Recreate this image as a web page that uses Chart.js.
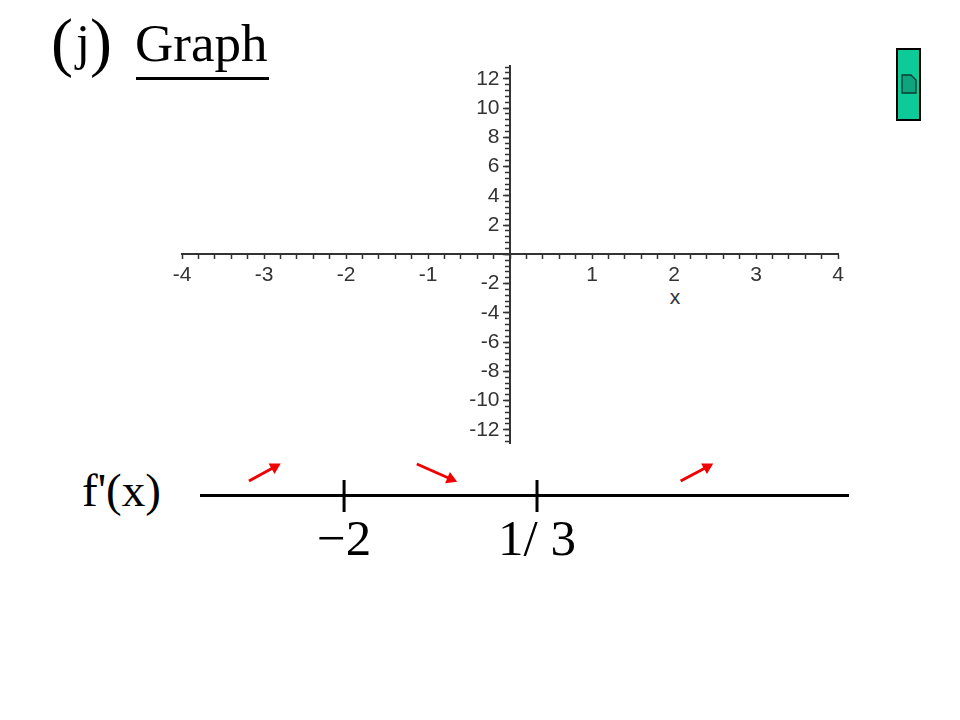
<!DOCTYPE html>
<html>
<head>
<meta charset="utf-8">
<title>Graph</title>
<script src="https://cdn.jsdelivr.net/npm/chart.js@4"></script>
<style>
html, body { margin: 0; padding: 0; background: #fff; }
#page { position: relative; width: 960px; height: 720px; overflow: hidden; }
#page canvas { position: absolute; }
.serif { position: absolute; font-family: "Liberation Serif", serif; color: #000; line-height: 1; white-space: pre; }
</style>
</head>
<body>
<div id="page">
	<div class="serif" style="left:51px;top:9px;font-size:66px;">(</div>
	<div class="serif" style="left:76px;top:17px;font-size:50px;">j</div>
	<div class="serif" style="left:90px;top:9px;font-size:66px;">)</div>
	<div class="serif" style="left:135px;top:17px;font-size:53px;">Graph</div>
	<div style="position:absolute;left:136px;top:77px;width:133px;height:3px;background:#000;"></div>
	<div class="serif" style="left:82px;top:467px;font-size:47px;">f'(x)</div>
	<div style="position:absolute;left:664px;top:285px;width:22px;text-align:center;font:21px 'Liberation Sans',sans-serif;color:#333;">x</div>
	<svg style="position:absolute;left:896px;top:48px;" width="25" height="73">
		<rect x="1" y="1" width="23" height="71" fill="#0ccb98" stroke="#000" stroke-width="2"/>
		<path d="M6 27 H15 L20 32 V45 H6 Z" fill="#0ea57e" stroke="#0b3d30" stroke-width="1.3"/>
	</svg>
	<canvas id="axesChart" width="720" height="410" style="left:150px;top:50px;"></canvas>
	<canvas id="signChart" width="960" height="110" style="left:0;top:450px;"></canvas>
</div>
<script>
"use strict";

/*******************
	  DATA
*******************/

var xRange = [-4, 4];
var yRange = [-12.9, 12.9];
var xMinorStep = 0.2;
var yMinorStep = 0.4;
var yMajorStep = 2;
var xLabels = [-4, -3, -2, -1, 1, 2, 3, 4];
var yLabels = [-12, -10, -8, -6, -4, -2, 2, 4, 6, 8, 10, 12];

var signRange = [-3.73, 4.094];
var signHeight = [-20, 35];
var criticalPoints = [-2, 1 / 3];
var criticalLabels = ['\u22122', '1/ 3'];
var criticalMark = [-17, 15];
var arrowUpFirstX = [-3.15, -2.84];
var arrowDownX = [-1.12, -0.71];
var arrowUpLastX = [2.07, 2.39];
var arrowUpY = [14, 28];
var arrowDownY = [31, 16];

/*******************
	  AXES CHART
*******************/

function hasLabel(list, value) {
	return list.indexOf(Math.round(value * 10) / 10) !== -1;
}

var axisFont = { family: "'Liberation Sans', sans-serif", size: 21 };

var axesChart = new Chart(document.getElementById('axesChart'), {
	type: 'scatter',
	data: { datasets: [] },
	options: {
		responsive: false,
		animation: false,
		layout: { padding: { left: 32, right: 32, top: 13, bottom: 17 } },
		plugins: { legend: { display: false }, tooltip: { enabled: false } },
		scales: {
			x: {
				type: 'linear',
				position: { y: 0 },
				min: xRange[0],
				max: xRange[1],
				border: { color: '#333', width: 2 },
				grid: { drawOnChartArea: false, tickLength: 4, tickColor: '#333', tickWidth: 1.5 },
				ticks: {
					stepSize: xMinorStep,
					autoSkip: false,
					maxRotation: 0,
					padding: 4,
					color: '#333',
					font: axisFont,
					callback: function(value) {
						return hasLabel(xLabels, value) ? String(Math.round(value)) : '';
					}
				}
			},
			// minor tick marks only, the labelled ones are on the next axis
			y: {
				type: 'linear',
				position: { x: 0 },
				min: yRange[0],
				max: yRange[1],
				border: { color: '#333', width: 2 },
				grid: { drawOnChartArea: false, tickLength: 4, tickColor: '#333', tickWidth: 1.5 },
				ticks: {
					stepSize: yMinorStep,
					includeBounds: false,
					autoSkip: false,
					display: false
				}
			},
			yMajor: {
				type: 'linear',
				position: { x: 0 },
				min: yRange[0],
				max: yRange[1],
				border: { color: '#333', width: 2 },
				grid: { drawOnChartArea: false, tickLength: 6, tickColor: '#333', tickWidth: 1.5 },
				ticks: {
					stepSize: yMajorStep,
					includeBounds: false,
					autoSkip: false,
					color: '#333',
					font: axisFont,
					callback: function(value) {
						// the centred axis puts labels right on the line, the space pushes them off it
						return hasLabel(yLabels, value) ? Math.round(value) + '\u2002' : '';
					}
				}
			}
		}
	}
});

/*******************
	  SIGN LINE
*******************/

function arrowDataset(xs, ys, rotation) {
	return {
		data: [{ x: xs[0], y: ys[0] }, { x: xs[1], y: ys[1] }],
		showLine: true,
		borderColor: '#f00000',
		backgroundColor: '#f00000',
		borderWidth: 3,
		pointStyle: 'triangle',
		pointRadius: [0, 7],
		pointBorderWidth: 0,
		pointRotation: rotation
	};
}

var signDatasets = criticalPoints.map(function(point) {
	return {
		data: criticalMark.map(function(height) { return { x: point, y: height }; }),
		showLine: true,
		borderColor: '#000',
		borderWidth: 3,
		pointRadius: 0
	};
});
signDatasets.push(arrowDataset(arrowUpFirstX, arrowUpY, 61));
signDatasets.push(arrowDataset(arrowDownX, arrowDownY, 113));
signDatasets.push(arrowDataset(arrowUpLastX, arrowUpY, 61));

var signChart = new Chart(document.getElementById('signChart'), {
	type: 'scatter',
	data: { datasets: signDatasets },
	options: {
		responsive: false,
		animation: false,
		layout: { padding: { left: 201, right: 112, top: 10, bottom: 45 } },
		plugins: { legend: { display: false }, tooltip: { enabled: false } },
		scales: {
			x: {
				type: 'linear',
				position: { y: 0 },
				min: signRange[0],
				max: signRange[1],
				afterBuildTicks: function(axis) {
					axis.ticks = criticalPoints.map(function(point) { return { value: point }; });
				},
				border: { color: '#000', width: 3 },
				grid: { display: false, drawTicks: false },
				ticks: {
					autoSkip: false,
					maxRotation: 0,
					padding: 16,
					color: '#000',
					font: { family: "'Liberation Serif', serif", size: 51 },
					callback: function(value, index) {
						return criticalLabels[index];
					}
				}
			},
			y: {
				type: 'linear',
				display: false,
				min: signHeight[0],
				max: signHeight[1]
			}
		}
	}
});
</script>
</body>
</html>
